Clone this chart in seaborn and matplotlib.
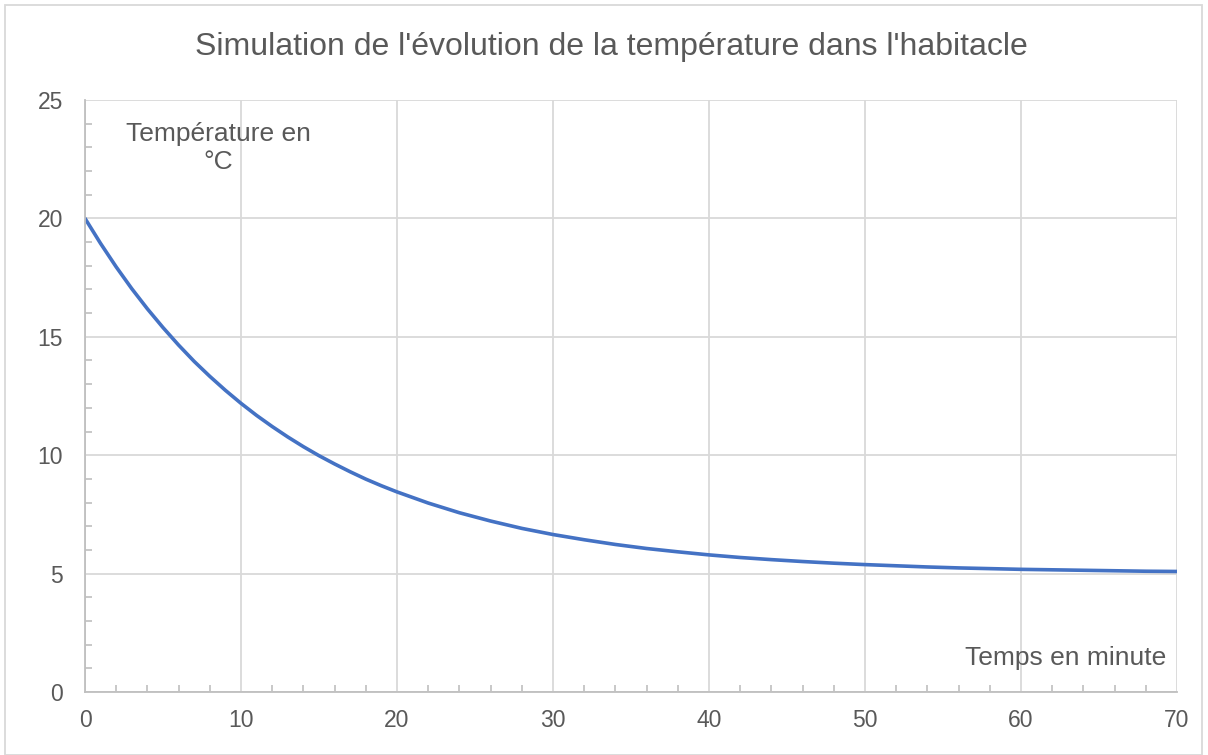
import matplotlib
matplotlib.use("Agg")
import matplotlib.pyplot as plt
from matplotlib.ticker import MultipleLocator
from matplotlib.patches import Rectangle
import seaborn as sns
import pandas as pd

# Data
temps_min = [0, 1, 2, 3, 4, 5, 6, 7, 8, 9, 10, 11, 12, 13, 14, 15, 16, 17, 18, 19,
             20, 22, 24, 26, 28, 30, 32, 34, 36, 38, 40, 42, 44, 46, 48, 50, 52,
             54, 56, 58, 60, 62, 64, 66, 68, 70]
temperature = [20.00, 18.94, 17.95, 17.03, 16.18, 15.39, 14.65, 13.96, 13.33, 12.74,
               12.19, 11.68, 11.21, 10.77, 10.36, 9.98, 9.63, 9.30, 8.99, 8.71,
               8.45, 7.98, 7.57, 7.22, 6.91, 6.65, 6.43, 6.23, 6.06, 5.92, 5.79,
               5.68, 5.59, 5.51, 5.44, 5.38, 5.33, 5.28, 5.24, 5.21, 5.18, 5.16,
               5.14, 5.12, 5.10, 5.09]
x_ticks = [0, 10, 20, 30, 40, 50, 60, 70]
y_ticks = [0, 5, 10, 15, 20, 25]
title = "Simulation de l'évolution de la température dans l'habitacle"
y_label = "Température en\n°C"
x_label = "Temps en minute"

df = pd.DataFrame({"t": temps_min, "T": temperature})

sns.set_style("white")
plt.rcParams['font.family'] = ['Liberation Sans', 'DejaVu Sans']

text_color = "#595959"
grid_color = "#d9d9d9"
spine_color = "#bfbfbf"

fig = plt.figure(figsize=(12.08, 7.55), dpi=100)
ax = fig.add_axes([85/1208, 1 - 692/755, (1177 - 85)/1208, (692 - 100)/755])

sns.lineplot(data=df, x="t", y="T", ax=ax, color="#4472C4", linewidth=2.6)

ax.set_xlim(0, 70)
ax.set_ylim(0, 25)
ax.set_xticks(x_ticks)
ax.set_yticks(y_ticks)
ax.xaxis.set_minor_locator(MultipleLocator(2))
ax.yaxis.set_minor_locator(MultipleLocator(1))
ax.grid(True, which="major", color=grid_color, linewidth=1.3)
ax.set_axisbelow(True)
ax.tick_params(axis="both", which="major", length=0, labelsize=16.5,
               labelcolor=text_color)
ax.tick_params(axis="x", which="major", pad=12)
ax.tick_params(axis="y", which="major", pad=16)
ax.tick_params(axis="x", which="minor", direction="in", length=5,
               color=spine_color, width=1.2, bottom=True)
ax.tick_params(axis="y", which="minor", direction="in", length=5,
               color=spine_color, width=1.2, left=True)
for side in ["top", "right"]:
    ax.spines[side].set_visible(False)
for side in ["left", "bottom"]:
    ax.spines[side].set_color(spine_color)
    ax.spines[side].set_linewidth(1.3)
ax.set_xlabel("")
ax.set_ylabel("")

ax.text(218/1208, 1 - 148/755, y_label, transform=fig.transFigure,
        ha="center", va="center", fontsize=19, color=text_color,
        linespacing=1.2)
ax.text(1166/1208, 1 - 658/755, x_label, transform=fig.transFigure,
        ha="right", va="center", fontsize=19, color=text_color)

fig.text(611/1208, 1 - 47/755, title, ha="center", va="center",
         fontsize=23, color=text_color)

fig.patches.append(Rectangle((5/1208, 0), 1197/1208, 1 - 5/755,
                             transform=fig.transFigure, fill=False,
                             edgecolor=grid_color, linewidth=1.3))

fig.savefig("out.png", dpi=100, facecolor="white")
